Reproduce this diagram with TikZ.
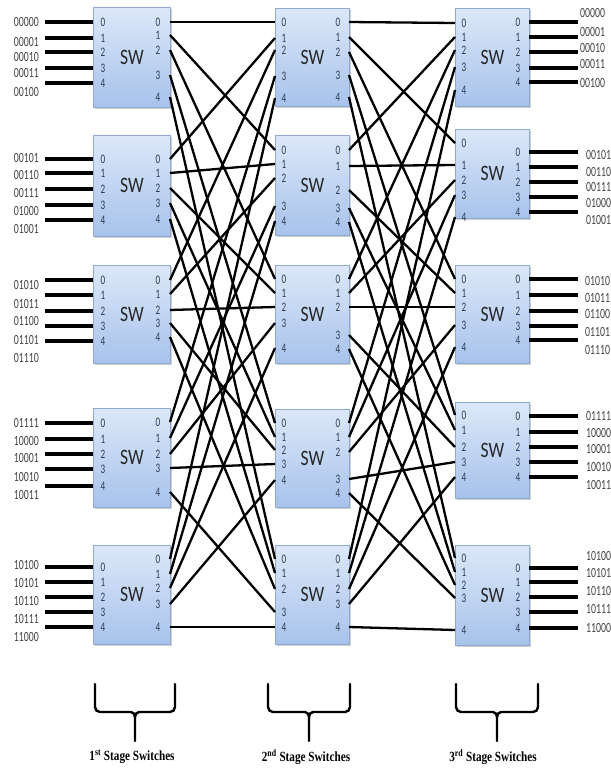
\documentclass[tikz,border=0pt]{standalone}
\usepackage{fontspec}
\newfontfamily\swfont[FakeStretch=0.8]{Carlito}
\newfontfamily\numfont[FakeStretch=0.7]{Carlito}
\newfontfamily\capfont[FakeStretch=0.8]{Liberation Serif}
\usetikzlibrary{shadows}
\definecolor{boxtop}{HTML}{DCE8F8}
\definecolor{boxbot}{HTML}{A7C2EB}
\definecolor{boxline}{HTML}{90A9CE}
\definecolor{numcol}{HTML}{2E3D55}
\definecolor{labcol}{HTML}{444444}
\tikzset{
  swbox/.style={draw=boxline, line width=0.8pt, top color=boxtop, bottom color=boxbot,
    inner sep=0pt, font=\swfont\fontsize{22}{22}\selectfont, text=black!85,
    drop shadow={shadow xshift=1.2pt, shadow yshift=-1.2pt, opacity=0.3, fill=black!60}},
  portnum/.style={inner sep=0pt, font=\numfont\fontsize{13}{13}\selectfont, text=numcol},
  bitlabel/.style={inner sep=0pt, font=\numfont\fontsize{14}{14}\selectfont, text=labcol},
  feed/.style={line width=3.2pt, black},
  link/.style={line width=2.3pt, black},
  bracket/.style={line width=2.4pt, black, line cap=round},
  caption/.style={inner sep=0pt, font=\capfont\bfseries\fontsize{14}{14}\selectfont}
}
\begin{document}
\begin{tikzpicture}[x=1pt, y=-1pt]
\useasboundingbox[fill=white] (0,0) rectangle (611,772);
\coordinate (lx) at (45,0);
\coordinate (rx) at (578,0);

% first stage: inputs, labels, switches
\foreach \n/\t/\b/\P/\O in {
  A1/7/107/{00000/22/22,00001/38/42,00010/52/57,00011/68/73,00100/83/92}/{22,35,50,75,97},
  A2/135/236/{00101/159/158,00110/173/175,00111/189/193,01000/205/211,01001/220/229}/{159,173,188,203,219},
  A3/265/363/{01010/280/285,01011/295/304,01100/311/321,01101/326/340,01110/341/358}/{280,294,310,323,337},
  A4/408/507/{01111/423/423,10000/439/441,10001/454/458,10010/469/477,10011/486/495}/{422,438,454,468,492},
  A5/545/644/{10100/567/565,10101/582/583,10110/597/601,10111/612/619,11000/627/637}/{559,574,588,604,627}}{
  \pgfmathsetmacro\h{\b-\t}
  \node[swbox, minimum width=77pt, minimum height=\h pt, anchor=north west] (\n) at (93,\t) {SW};
  \foreach \s/\y/\ly [count=\k from 0] in \P {
    \coordinate (\n-i\k) at (93,\y);
    \node[portnum] at (103,\y) {\k};
    \node[bitlabel, anchor=east] (\n-l\k) at (39,\ly) {\s};
    \draw[feed] (\n-i\k) -- (\n-i\k -| lx);
  }
  \foreach \y [count=\k from 0] in \O {
    \coordinate (\n-o\k) at (170,\y);
    \node[portnum] at (158,\y) {\k};
  }
}

% second stage switches
\foreach \n/\t/\b/\I/\O in {
  B1/8/106/{22,38,50,76,98}/{22,37,52,75,97},
  B2/135/235/{150,164,178,206,221}/{150,166,190,208,222},
  B3/265/363/{279,293,307,323,348}/{279,293,307,335,349},
  B4/409/507/{423,437,450,464,480}/{423,437,452,479,493},
  B5/545/644/{559,573,589,612,627}/{559,573,589,604,627}}{
  \pgfmathsetmacro\h{\b-\t}
  \node[swbox, minimum width=74pt, minimum height=\h pt, anchor=north west] (\n) at (275,\t) {SW};
  \foreach \y [count=\k from 0] in \I {
    \coordinate (\n-i\k) at (275,\y);
    \node[portnum] at (284,\y) {\k};
  }
  \foreach \y [count=\k from 0] in \O {
    \coordinate (\n-o\k) at (349,\y);
    \node[portnum] at (338,\y) {\k};
  }
}

% third stage: switches, outputs, labels
\foreach \n/\t/\b/\lx/\I/\P in {
  C1/8/106/580/{23,37,50,67,90}/{00000/22/13,00001/37/32,00010/52/48,00011/68/64,00100/82/83},
  C2/129/218/586/{143,165,180,195,217}/{00101/152/155,00110/167/172,00111/182/187,01000/197/203,01001/212/220},
  C3/265/363/585/{279,293,307,325,347}/{01010/279/281,01011/295/298,01100/311/314,01101/326/332,01110/340/350},
  C4/402/498/586/{415,430,447,462,477}/{01111/416/416,10000/432/433,10001/447/449,10010/462/467,10011/477/485},
  C5/545/645/586/{558,572,585,598,630}/{10100/568/556,10101/582/573,10110/597/591,10111/612/609,11000/628/628}}{
  \pgfmathsetmacro\h{\b-\t}
  \node[swbox, minimum width=74pt, minimum height=\h pt, anchor=north west] (\n) at (455,\t) {SW};
  \foreach \y [count=\k from 0] in \I {
    \coordinate (\n-i\k) at (455,\y);
    \node[portnum] at (464,\y) {\k};
  }
  \foreach \s/\y/\ly [count=\k from 0] in \P {
    \coordinate (\n-o\k) at (529,\y);
    \node[portnum] at (518,\y) {\k};
    \node[bitlabel, anchor=west] (\n-l\k) at (\lx,\ly) {\s};
    \draw[feed] (\n-o\k) -- (\n-o\k -| rx);
  }
}

% inter-stage wiring: output j of switch i goes to input i of switch j
\foreach \i in {1,...,5}{
  \foreach \j in {1,...,5}{
    \pgfmathtruncatemacro\ip{\i-1}
    \pgfmathtruncatemacro\jp{\j-1}
    \draw[link] (A\i-o\jp) -- (B\j-i\ip);
    \draw[link] (B\i-o\jp) -- (C\j-i\ip);
  }
}

% stage brackets and captions
\foreach \c/\hw/\tx/\lab in {135/40/132/1\textsuperscript{st}, 309/41/306/2\textsuperscript{nd}, 497/41/493/3\textsuperscript{rd}}{
  \draw[bracket] (\c-\hw,684) -- (\c-\hw,707) to[out=-90,in=180] (\c-\hw+5,712)
    -- (\c-4,712) to[out=0,in=90] (\c,717) -- (\c,741);
  \draw[bracket] (\c+\hw,684) -- (\c+\hw,707) to[out=-90,in=0] (\c+\hw-5,712)
    -- (\c+4,712) to[out=180,in=90] (\c,717);
  \node[caption] at (\tx,757) {\lab\ Stage Switches};
}
\end{tikzpicture}
\end{document}
